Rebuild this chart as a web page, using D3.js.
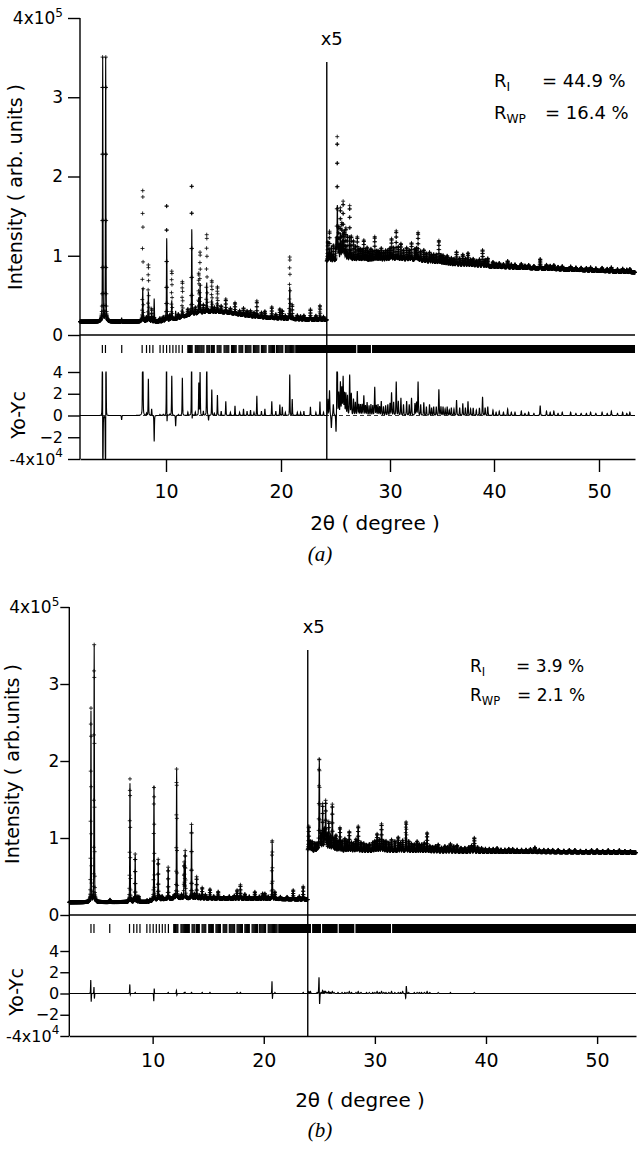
<!DOCTYPE html>
<html><head><meta charset="utf-8">
<script src="https://cdn.jsdelivr.net/npm/d3@7/dist/d3.min.js"></script>
<style>html,body{margin:0;padding:0;background:#fff}svg{display:block}</style>
</head><body>
<svg id="chart" width="640" height="1168"></svg>
<script>
// ---------------- shared data ----------------
const xTicks = [10, 20, 30, 40, 50];
const yMainTicks = [0, 1, 2, 3, 4];
const yDiffTicks = [-4, -2, 0, 2, 4];
const xStart = 2.5, xEnd = 53.5, xStep = 0.01;

// Bragg reflection positions (2θ) resolved individually
const reflections = [4.45, 4.72, 6.14, 7.92, 8.3, 8.58, 8.86, 9.48, 9.76, 10.05, 10.33, 10.6, 10.87, 11.13, 11.42,
  11.9, 11.97, 12.05, 12.12, 12.2, 12.27, 12.55, 12.63, 12.72, 12.8, 12.88, 12.96, 13.05, 13.13, 13.22, 13.3,
  13.55, 13.63, 13.72, 13.8, 13.95, 14.03, 14.12, 14.2, 14.45, 14.53, 14.62, 14.7, 14.78, 15.05, 15.13, 15.22,
  15.3, 15.38, 15.46, 15.7, 15.78, 15.86, 15.94, 16.02, 16.1, 16.35, 16.43, 16.51, 16.59, 16.67, 16.9, 16.98,
  17.06, 17.14, 17.22, 17.3, 17.38, 17.6, 17.68, 17.76, 17.84, 17.92, 18.0, 18.08, 18.3, 18.38, 18.46, 18.54,
  18.62, 18.7, 18.95, 19.03, 19.11, 19.19, 19.27, 19.35, 19.43, 19.6, 19.68, 19.76, 19.84, 19.92, 20.0, 20.08,
  20.16, 20.4, 20.48, 20.56, 20.64, 20.72, 20.8, 20.88, 20.96, 21.04, 21.12, 21.2];
// ranges where reflections merge into a solid band [from, to]
const reflBandsA = [[21.3, 26.9], [27.0, 28.25], [28.35, 53.5]];
const reflBandsB = [[21.3, 24.25], [24.35, 25.15], [25.25, 26.65], [26.75, 28.15], [28.25, 31.45], [31.55, 53.5]];

// ---------------- panel (a) ----------------
// values in displayed units of 1e5 (right of the cut the display is x5)
const cutA = 24.2;
const bgLowA = [[2.5, 0.168], [9.5, 0.17], [10.5, 0.19], [11.5, 0.23], [12.5, 0.265], [13.5, 0.285], [14.5, 0.29],
  [15.5, 0.28], [16.5, 0.255], [17.5, 0.235], [19, 0.215], [21, 0.2], [24.2, 0.19]];
const bgHighA = [[24.2, 0.92], [26, 0.93], [28, 0.93], [30, 0.95], [32, 0.95], [34, 0.92], [36, 0.89], [38, 0.88],
  [40, 0.86], [44, 0.84], [48, 0.82], [53.5, 0.79]];
// [position, calculated height, observed height, observed shift]
const peaksA = [
  [4.48, 3.33, 3.33, -0.01], [4.74, 3.33, 3.33, 0.01], [6.13, 0.05, 0.01], [7.973, 0.43, 1.67], [8.3, 0.03, 0.05],
  [8.463, 0.38, 0.72], [8.6, 0.03, 0.03], [8.75, 0.1, 0.16], [8.97, 0.29, 0.05], [9.47, 0.03, 0.04], [9.76, 0.04, 0.05],
  [10.063, 1.05, 1.49, -0.008], [10.33, 0.05, 0.06], [10.503, 0.25, 0.62], [10.84, 0.1, 0.0], [11.07, 0.04, 0.05],
  [11.423, 0.1, 0.45], [11.9, 0.05, 0.08], [12.243, 1.09, 1.67, -0.008], [12.55, 0.05, 0.08], [12.853, 0.2, 0.5],
  [12.963, 0.36, 0.77], [13.25, 0.06, 0.1], [13.543, 0.38, 0.99], [13.7, 0.05, 0.0], [13.983, 0.16, 0.4],
  [14.2, 0.04, 0.06], [14.473, 0.13, 0.32], [14.8, 0.04, 0.08], [15.2, 0.04, 0.17], [15.6, 0.03, 0.06],
  [16.0, 0.05, 0.14], [16.4, 0.02, 0.05], [16.74, 0.03, 0.09], [17.05, 0.02, 0.06], [17.35, 0.02, 0.07],
  [17.65, 0.02, 0.05], [17.9, 0.02, 0.2], [18.3, 0.02, 0.06], [18.6, 0.02, 0.08], [19.2, 0.01, 0.14],
  [19.55, 0.01, 0.05], [19.9, 0.02, 0.12], [20.12, 0.02, 0.1], [20.4, 0.01, 0.04], [20.803, 0.41, 0.79],
  [21.03, 0.03, 0.18], [21.5, 0.02, 0.05], [21.8, 0.01, 0.04], [22.1, 0.01, 0.05], [22.7, 0.05, 0.13],
  [23.2, 0.02, 0.05], [23.573, 0.05, 0.18], [23.9, 0.01, 0.04],
  [24.3, 0.1, 0.25], [24.45, 0.15, 0.38], [24.62, 0.2, 0.08], [24.8, 0.1, 0.2], [25.05, 0.3, 0.12], [25.17, 0.7, 1.56, -0.01],
  [25.3, 0.2, 0.4], [25.45, 0.35, 0.65], [25.58, 0.2, 0.45], [25.7, 0.38, 0.73], [25.82, 0.15, 0.35], [25.95, 0.2, 0.4],
  [26.1, 0.12, 0.3], [26.3, 0.32, 0.69], [26.45, 0.1, 0.3], [26.65, 0.1, 0.25], [26.82, 0.06, 0.18],
  [27.0, 0.08, 0.3], [27.15, 0.05, 0.15], [27.3, 0.05, 0.15], [27.45, 0.04, 0.14], [27.6, 0.08, 0.26],
  [27.75, 0.04, 0.13], [27.9, 0.05, 0.17], [28.08, 0.03, 0.12], [28.25, 0.05, 0.15], [28.42, 0.03, 0.12],
  [28.6, 0.04, 0.3], [28.75, 0.03, 0.12], [28.9, 0.02, 0.12], [29.05, 0.02, 0.1], [29.2, 0.02, 0.15],
  [29.4, 0.02, 0.1], [29.6, 0.03, 0.12], [29.8, 0.02, 0.12], [30.0, 0.03, 0.14], [30.15, 0.05, 0.26],
  [30.35, 0.03, 0.15], [30.6, 0.05, 0.36], [30.8, 0.03, 0.16], [31.05, 0.04, 0.2], [31.3, 0.02, 0.12],
  [31.6, 0.02, 0.15], [31.85, 0.02, 0.12], [32.07, 0.05, 0.21], [32.4, 0.03, 0.14], [32.55, 0.03, 0.15],
  [32.7, 0.04, 0.35], [32.95, 0.02, 0.12], [33.25, 0.02, 0.14], [33.5, 0.02, 0.1], [33.8, 0.02, 0.12],
  [34.0, 0.02, 0.09], [34.2, 0.02, 0.1], [34.45, 0.02, 0.1], [34.7, 0.04, 0.28], [34.9, 0.02, 0.1],
  [35.1, 0.02, 0.1], [35.3, 0.01, 0.07], [35.5, 0.02, 0.1], [35.7, 0.01, 0.06], [35.9, 0.01, 0.08],
  [36.15, 0.01, 0.07], [36.4, 0.02, 0.16], [36.7, 0.01, 0.08], [37.0, 0.02, 0.13], [37.25, 0.01, 0.08],
  [37.5, 0.02, 0.15], [37.75, 0.01, 0.07], [38.0, 0.01, 0.08], [38.3, 0.01, 0.06], [38.6, 0.01, 0.08],
  [38.9, 0.03, 0.2], [39.15, 0.01, 0.08], [39.4, 0.02, 0.1], [39.9, 0.01, 0.06], [40.2, 0.01, 0.04],
  [40.5, 0.01, 0.05], [40.9, 0.01, 0.04], [41.3, 0.02, 0.08], [41.65, 0.01, 0.04], [42.0, 0.01, 0.04],
  [42.6, 0.01, 0.05], [42.95, 0.01, 0.03], [43.3, 0.01, 0.04], [43.8, 0.01, 0.03], [44.4, 0.03, 0.12],
  [45.0, 0.01, 0.05], [45.35, 0.01, 0.04], [45.7, 0.01, 0.05], [46.1, 0.01, 0.03], [46.5, 0.01, 0.04],
  [47.3, 0.01, 0.04], [47.8, 0.01, 0.03], [48.3, 0.01, 0.03], [48.8, 0.01, 0.03], [49.2, 0.01, 0.04],
  [49.7, 0.01, 0.03], [50.3, 0.01, 0.04], [50.8, 0.01, 0.03], [51.2, 0.01, 0.05], [51.8, 0.01, 0.03],
  [52.3, 0.01, 0.04], [52.7, 0.01, 0.03], [53.0, 0.01, 0.04]];
const rLabelsA = [["I", "= 44.9 %"], ["WP", "= 16.4 %"]];
const textA = {y: "Intensity ( arb. units )", diff: "Yo-Yc", x: "2θ ( degree )", cap: "(a)", mult: "x5"};

// ---------------- panel (b) ----------------
const cutB = 23.96;
const bgLowB = [[2.5, 0.165], [9.5, 0.17], [10.5, 0.2], [12, 0.215], [15, 0.215], [20, 0.21], [23.96, 0.2]];
const bgHighB = [[23.96, 0.83], [30, 0.83], [40, 0.82], [53.5, 0.81]];
const peaksB = [
  [4.45, 2.48, 2.52, -0.0015], [4.74, 3.33, 3.34, -0.0006], [6.16, 0.03, 0.03], [7.96, 1.54, 1.6, -0.001],
  [8.3, 0.04, 0.04], [8.43, 0.61, 0.62], [8.6, 0.07, 0.07], [8.76, 0.07, 0.07], [9.5, 0.02, 0.02], [9.76, 0.02, 0.02],
  [10.12, 1.49, 1.47, 0.0015], [10.5, 0.52, 0.52], [10.62, 0.04, 0.04], [10.85, 0.04, 0.04], [11.4, 0.4, 0.41],
  [11.95, 0.04, 0.04], [12.16, 1.67, 1.68, -0.0005], [12.6, 0.05, 0.05], [12.84, 0.45, 0.46], [12.93, 0.6, 0.61],
  [13.5, 0.95, 0.96], [13.75, 0.06, 0.06], [13.96, 0.28, 0.28], [14.2, 0.04, 0.04], [14.46, 0.13, 0.14],
  [14.75, 0.05, 0.05], [15.16, 0.11, 0.12], [15.5, 0.03, 0.03], [15.9, 0.09, 0.09], [16.4, 0.02, 0.02],
  [16.9, 0.03, 0.03], [17.35, 0.04, 0.04], [17.6, 0.1, 0.11], [17.9, 0.17, 0.18], [18.3, 0.06, 0.06],
  [18.7, 0.03, 0.03], [19.2, 0.09, 0.09], [19.6, 0.03, 0.03], [19.9, 0.07, 0.07], [20.1, 0.07, 0.07],
  [20.4, 0.03, 0.03], [20.76, 0.72, 0.77, -0.004], [21.0, 0.08, 0.09], [21.5, 0.03, 0.03], [22.1, 0.03, 0.03],
  [22.65, 0.12, 0.12], [23.2, 0.04, 0.04], [23.55, 0.16, 0.17],
  [24.05, 0.3, 0.32], [24.2, 0.1, 0.12], [24.35, 0.12, 0.12], [24.6, 0.1, 0.1], [24.8, 0.08, 0.09],
  [25.0, 1.16, 1.2, -0.0055], [25.15, 0.2, 0.21], [25.3, 0.57, 0.6], [25.45, 0.25, 0.27], [25.57, 0.62, 0.64],
  [25.7, 0.2, 0.21], [25.85, 0.35, 0.37], [26.0, 0.18, 0.19], [26.17, 0.58, 0.6], [26.33, 0.15, 0.16],
  [26.5, 0.2, 0.2], [26.68, 0.12, 0.13], [26.86, 0.3, 0.3], [27.05, 0.12, 0.13], [27.3, 0.15, 0.16],
  [27.5, 0.12, 0.13], [27.7, 0.23, 0.25], [27.9, 0.1, 0.11], [28.1, 0.1, 0.1], [28.3, 0.14, 0.15],
  [28.5, 0.3, 0.32], [28.75, 0.1, 0.11], [29.0, 0.1, 0.1], [29.25, 0.07, 0.08], [29.5, 0.08, 0.09],
  [29.8, 0.1, 0.11], [30.0, 0.12, 0.13], [30.2, 0.2, 0.22], [30.4, 0.14, 0.15], [30.6, 0.33, 0.35],
  [30.8, 0.12, 0.13], [31.0, 0.12, 0.13], [31.25, 0.1, 0.11], [31.5, 0.13, 0.15], [31.8, 0.12, 0.13],
  [32.1, 0.17, 0.18], [32.3, 0.1, 0.11], [32.5, 0.12, 0.14], [32.8, 0.36, 0.38, 0.008], [33.05, 0.12, 0.13],
  [33.3, 0.1, 0.1], [33.55, 0.08, 0.09], [33.8, 0.12, 0.13], [34.0, 0.08, 0.09], [34.2, 0.08, 0.09],
  [34.45, 0.1, 0.11], [34.7, 0.22, 0.24], [34.95, 0.06, 0.07], [35.2, 0.06, 0.06], [35.45, 0.07, 0.07],
  [35.7, 0.08, 0.09], [36.0, 0.05, 0.05], [36.3, 0.07, 0.07], [36.55, 0.06, 0.06], [36.8, 0.09, 0.1],
  [37.1, 0.07, 0.07], [37.4, 0.08, 0.08], [37.75, 0.05, 0.05], [38.1, 0.05, 0.05], [38.45, 0.06, 0.06],
  [38.7, 0.08, 0.08], [38.95, 0.17, 0.18], [39.25, 0.06, 0.06], [39.6, 0.05, 0.05], [39.95, 0.04, 0.04],
  [40.3, 0.04, 0.04], [40.65, 0.04, 0.04], [41.0, 0.05, 0.05], [41.35, 0.03, 0.03], [41.7, 0.03, 0.03],
  [42.05, 0.04, 0.04], [42.4, 0.04, 0.04], [42.8, 0.03, 0.03], [43.2, 0.03, 0.03], [43.6, 0.03, 0.03],
  [44.0, 0.04, 0.04], [44.4, 0.06, 0.06], [44.8, 0.03, 0.03], [45.2, 0.03, 0.03], [45.6, 0.03, 0.03],
  [46.0, 0.03, 0.03], [46.5, 0.03, 0.03], [47.0, 0.02, 0.02], [47.5, 0.03, 0.03], [48.0, 0.03, 0.03],
  [48.5, 0.02, 0.02], [49.0, 0.02, 0.02], [49.5, 0.03, 0.03], [50.0, 0.03, 0.03], [50.5, 0.02, 0.02],
  [51.0, 0.03, 0.03], [51.5, 0.02, 0.02], [52.0, 0.03, 0.03], [52.5, 0.02, 0.02], [53.0, 0.02, 0.02]];
const rLabelsB = [["I", "= 3.9 %"], ["WP", "= 2.1 %"]];
const textB = {y: "Intensity ( arb.units )", diff: "Yo-Yc", x: "2θ ( degree )", cap: "(b)", mult: "x5"};

// ---------------- layout (pixels) ----------------
const layoutA = {xDomain: [2.5, 10, 20, 30, 40, 50, 53.5], xRange: [80, 166, 281, 390, 494, 599, 635],
  mainTop: 18, mainBottom: 335, reflTop: 345, reflBottom: 353, diffTop: 372, diffBottom: 459, cutTop: 62,
  yTick: 12, yPad: 5, xTick: 13, xPad: 13, multY: 45, multDx: 5, rX: 494, rEqX: [542, 545], rY: [87, 119], rSize: 18,
  ylabX: 22, ylabY: 187, dlabX: 25, dlabY: 415, xlabX: 375, xlabY: 530, capX: 320, capY: 561};
const layoutB = {xDomain: [2.5, 53.5], xRange: [69.3, 636],
  mainTop: 607, mainBottom: 915, reflTop: 924, reflBottom: 933, diffTop: 951, diffBottom: 1036, cutTop: 650,
  yTick: 9, yPad: 1, xTick: 8, xPad: 10, multY: 633, multDx: 6, rX: 470, rEqX: [516, 517], rY: [672, 701], rSize: 17,
  ylabX: 19, ylabY: 764, dlabX: 23, dlabY: 992, xlabX: 360, xlabY: 1107, capX: 320, capY: 1137};

const FONT = "DejaVu Sans";
const svg = d3.select("#chart");

function pv(dx, w) {
  const t2 = 4 * (dx / w) * (dx / w);
  return 0.7 * Math.exp(-Math.LN2 * t2) + 0.3 / (1 + t2);
}
function bgScale(pts) {
  return d3.scaleLinear().domain(pts.map(p => p[0])).range(pts.map(p => p[1])).clamp(true);
}
function profile(cut, bgLow, bgHigh, peaks) {
  const lo = bgScale(bgLow), hi = bgScale(bgHigh);
  const n = Math.round((xEnd - xStart) / xStep);
  const pts = [];
  for (let i = 0; i <= n; i++) {
    const x = xStart + i * xStep;
    const high = x >= cut;
    let c = high ? hi(x) : lo(x), o = c;
    for (const p of peaks) {
      if ((p[0] >= cut) !== high) continue;
      const dx = x - p[0];
      if (Math.abs(dx) > 2) continue;
      const w = high ? 0.07 : 0.05;
      c += p[1] * pv(dx, w);
      o += p[2] * pv(dx - (p[3] || 0), w);
    }
    pts.push({x, c, o, high, d: Math.max(-4, Math.min(4, (o - c) * 10))});
  }
  return pts;
}

function drawPanel(L, cut, bgLow, bgHigh, peaks, bands, rLabels, T) {
  const g = svg.append("g");
  const x = d3.scaleLinear().domain(L.xDomain).range(L.xRange);
  const y = d3.scaleLinear().domain([0, 4]).range([L.mainBottom, L.mainTop]);
  const yd = d3.scaleLinear().domain([-4, 4]).range([L.diffBottom, L.diffTop]);
  const x0 = x(xStart), x1 = x(xEnd);
  const pts = profile(cut, bgLow, bgHigh, peaks);

  // observed points as "+" markers
  let dObs = "";
  for (const p of pts) {
    const X = x(p.x), Y = y(p.o);
    dObs += `M${(X - 2).toFixed(2)},${Y.toFixed(2)}h4M${X.toFixed(2)},${(Y - 2).toFixed(2)}v4`;
  }
  g.append("path").attr("d", dObs).attr("fill", "none").attr("stroke", "#000").attr("stroke-width", 0.8);

  // calculated profile
  const lineC = d3.line().x(p => x(p.x)).y(p => y(p.c));
  const lineD = d3.line().x(p => x(p.x)).y(p => yd(p.d));
  for (const part of [pts.filter(p => !p.high), pts.filter(p => p.high)]) {
    g.append("path").attr("d", lineC(part)).attr("fill", "none").attr("stroke", "#000").attr("stroke-width", 1.1);
  }
  // zero dashed line in difference panel
  g.append("line").attr("x1", x0).attr("x2", x1).attr("y1", yd(0)).attr("y2", yd(0))
    .attr("stroke", "#000").attr("stroke-width", 0.8).attr("stroke-dasharray", "4,3");
  for (const part of [pts.filter(p => !p.high), pts.filter(p => p.high)]) {
    g.append("path").attr("d", lineD(part)).attr("fill", "none").attr("stroke", "#000").attr("stroke-width", 1.1);
  }

  // reflection ticks
  g.append("g").selectAll("line").data(reflections).join("line")
    .attr("x1", d => x(d)).attr("x2", d => x(d)).attr("y1", L.reflTop).attr("y2", L.reflBottom)
    .attr("stroke", "#000").attr("stroke-width", 1.2);
  g.append("g").selectAll("rect").data(bands).join("rect")
    .attr("x", d => x(d[0])).attr("width", d => x(d[1]) - x(d[0]))
    .attr("y", L.reflTop).attr("height", L.reflBottom - L.reflTop).attr("fill", "#000");

  // axes
  const fmt = d3.format("d");
  const styleAxis = sel => {
    sel.select(".domain").attr("stroke-width", 1.4);
    sel.selectAll(".tick line").attr("stroke-width", 1.4);
    sel.attr("font-family", FONT).attr("fill", "#000");
    sel.selectAll(".tick text").attr("fill", "#000");
  };
  const sup = (sel, val, base, pow) => {
    sel.selectAll(".tick text").filter(d => d === val).each(function () {
      const t = d3.select(this).text(base);
      t.append("tspan").attr("font-size", 12).attr("dy", "-0.6em").text(pow);
    });
  };
  const ay = g.append("g").attr("transform", `translate(${x0},0)`)
    .call(d3.axisLeft(y).tickValues(yMainTicks).tickFormat(fmt).tickSize(L.yTick).tickPadding(L.yPad).tickSizeOuter(0))
    .attr("font-size", 17).call(styleAxis);
  ay.select(".domain").remove();
  sup(ay, 4, "4x10", "5");
  const ad = g.append("g").attr("transform", `translate(${x0},0)`)
    .call(d3.axisLeft(yd).tickValues(yDiffTicks).tickFormat(fmt).tickSize(L.yTick).tickPadding(L.yPad).tickSizeOuter(0))
    .attr("font-size", 16).call(styleAxis);
  ad.select(".domain").remove();
  sup(ad, -4, "-4x10", "4");
  g.append("g").attr("transform", `translate(0,${yd(-4)})`)
    .call(d3.axisBottom(x).tickValues(xTicks).tickFormat(fmt).tickSize(L.xTick).tickPadding(L.xPad).tickSizeOuter(0))
    .attr("font-size", 19).call(styleAxis);
  // left axis spanning both panels and main baseline
  g.append("line").attr("x1", x0).attr("x2", x0).attr("y1", y(4)).attr("y2", yd(-4)).attr("stroke", "#000").attr("stroke-width", 1.4);
  g.append("line").attr("x1", x0).attr("x2", x1).attr("y1", y(0)).attr("y2", y(0)).attr("stroke", "#000").attr("stroke-width", 1.4);

  // x5 cut line
  g.append("line").attr("x1", x(cut)).attr("x2", x(cut)).attr("y1", L.cutTop).attr("y2", yd(-4))
    .attr("stroke", "#000").attr("stroke-width", 1.4);
  g.append("text").attr("x", x(cut) + L.multDx).attr("y", L.multY).attr("text-anchor", "middle")
    .attr("font-family", FONT).attr("font-size", 18).text(T.mult);

  // R factors
  rLabels.forEach((r, i) => {
    const t = g.append("text").attr("x", L.rX).attr("y", L.rY[i]).attr("font-family", FONT).attr("font-size", L.rSize);
    t.append("tspan").text("R");
    t.append("tspan").attr("font-size", L.rSize * 0.68).attr("dy", "0.35em").text(r[0]);
    g.append("text").attr("x", L.rEqX[i]).attr("y", L.rY[i]).attr("font-family", FONT).attr("font-size", L.rSize).text(r[1]);
  });

  // titles
  g.append("text").attr("transform", `translate(${L.ylabX},${L.ylabY}) rotate(-90)`).attr("text-anchor", "middle")
    .attr("font-family", FONT).attr("font-size", 19).text(T.y);
  g.append("text").attr("transform", `translate(${L.dlabX},${L.dlabY}) rotate(-90)`).attr("text-anchor", "middle")
    .attr("font-family", FONT).attr("font-size", 19).text(T.diff);
  g.append("text").attr("x", L.xlabX).attr("y", L.xlabY).attr("text-anchor", "middle")
    .attr("font-family", FONT).attr("font-size", 20).text(T.x);
  g.append("text").attr("x", L.capX).attr("y", L.capY).attr("text-anchor", "middle")
    .attr("font-family", "Liberation Serif").attr("font-style", "italic").attr("font-size", 21).text(T.cap);
}

drawPanel(layoutA, cutA, bgLowA, bgHighA, peaksA, reflBandsA, rLabelsA, textA);
drawPanel(layoutB, cutB, bgLowB, bgHighB, peaksB, reflBandsB, rLabelsB, textB);
</script>
</body></html>
